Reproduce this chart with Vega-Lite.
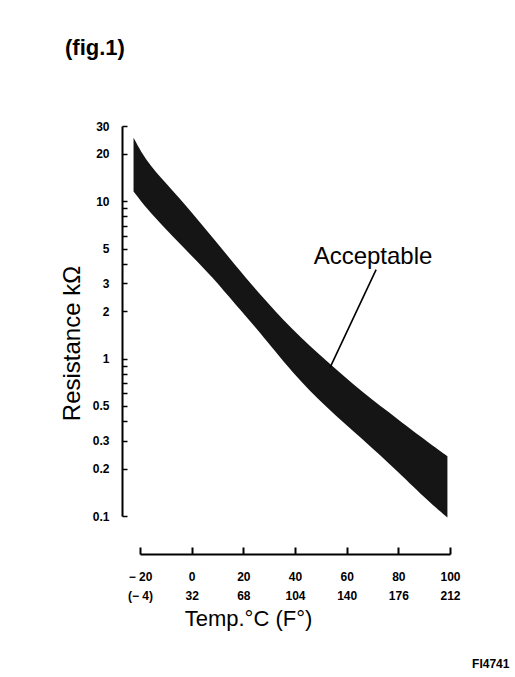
{
  "$schema": "https://vega.github.io/schema/vega-lite/v6.json",
  "autosize": "none",
  "width": 310,
  "height": 390,
  "padding": {"left": 140, "top": 126, "right": 65, "bottom": 161},
  "background": "white",
  "title": {
    "text": "(fig.1)",
    "anchor": "start",
    "frame": "group",
    "dx": -75,
    "offset": 38,
    "baseline": "bottom",
    "font": "Liberation Sans",
    "fontSize": 22,
    "fontWeight": "bold",
    "color": "black"
  },
  "config": {
    "view": {"stroke": null},
    "font": "Liberation Sans",
    "axis": {"labelColor": "black", "titleColor": "black", "grid": false}
  },
  "data": {
    "values": [
      {"temp": -22.5, "upper": 25.3, "lower": 11.5},
      {"temp": -18, "upper": 18.3, "lower": 9.2},
      {"temp": -10, "upper": 13.0, "lower": 6.6},
      {"temp": 0, "upper": 8.5, "lower": 4.5},
      {"temp": 8, "upper": 5.9, "lower": 3.3},
      {"temp": 17, "upper": 3.9, "lower": 2.2},
      {"temp": 26, "upper": 2.6, "lower": 1.5},
      {"temp": 39, "upper": 1.52, "lower": 0.81},
      {"temp": 52, "upper": 0.97, "lower": 0.49},
      {"temp": 66, "upper": 0.61, "lower": 0.31},
      {"temp": 80, "upper": 0.41, "lower": 0.19},
      {"temp": 92, "upper": 0.29, "lower": 0.122},
      {"temp": 99, "upper": 0.24, "lower": 0.098}
    ]
  },
  "layer": [
    {
      "mark": {"type": "area", "color": "#151515", "interpolate": "basis", "opacity": 1},
      "encoding": {
        "x": {
          "field": "temp",
          "type": "quantitative",
          "scale": {"domain": [-20, 100], "nice": false, "zero": false},
          "axis": {
            "title": "Temp.°C (F°)",
            "values": [-20, 0, 20, 40, 60, 80, 100],
            "labelExpr": "[datum.value < 0 ? '− 20' : datum.label, datum.value < 0 ? '(− 4)' : '' + (datum.value * 9 / 5 + 32)]",
            "offset": 38,
            "domainColor": "black",
            "domainWidth": 2,
            "tickColor": "black",
            "tickWidth": 2,
            "tickSize": -7,
            "labelPadding": 24,
            "labelFlush": false,
            "labelFontSize": 12,
            "labelFontWeight": "bold",
            "labelLineHeight": 19,
            "labelBaseline": "top",
            "titleFontSize": 22,
            "titleFontWeight": "normal",
            "titlePadding": 7,
            "titleX": 108
          }
        },
        "y": {
          "field": "upper",
          "type": "quantitative",
          "scale": {"type": "log", "domain": [0.1, 30], "nice": false},
          "axis": {
            "title": "Resistance kΩ",
            "values": [0.1, 0.2, 0.3, 0.4, 0.5, 0.6, 0.7, 0.8, 0.9, 1, 2, 3, 4, 5, 6, 7, 8, 9, 10, 20, 30],
            "format": "~g",
            "labelExpr": "indexof([0.1, 0.2, 0.3, 0.5, 1, 2, 3, 5, 10, 20, 30], datum.value) >= 0 ? datum.label : ''",
            "offset": 18,
            "domainColor": "black",
            "domainWidth": 2,
            "tickColor": "black",
            "tickWidth": 1.5,
            "tickSize": -5,
            "labelPadding": 18,
            "labelFlush": false,
            "labelOverlap": false,
            "labelFontSize": 12,
            "labelFontWeight": "bold",
            "titleFontSize": 24,
            "titleFontWeight": "normal",
            "titlePadding": 8,
            "titleY": 217
          }
        },
        "y2": {"field": "lower"}
      }
    },
    {
      "data": {"values": [{"x1": 71.4, "r1": 3.67, "x2": 53.6, "r2": 0.88}]},
      "mark": {"type": "rule", "color": "black", "strokeWidth": 1.6},
      "encoding": {
        "x": {"field": "x1", "type": "quantitative", "scale": {"domain": [-20, 100], "nice": false, "zero": false}},
        "y": {"field": "r1", "type": "quantitative", "scale": {"type": "log", "domain": [0.1, 30], "nice": false}},
        "x2": {"field": "x2"},
        "y2": {"field": "r2"}
      }
    },
    {
      "data": {"values": [{"label": "Acceptable", "tx": 70.2, "ty": 4.44}]},
      "mark": {"type": "text", "color": "black", "font": "Liberation Sans", "fontSize": 24, "align": "center", "baseline": "middle"},
      "encoding": {
        "x": {"field": "tx", "type": "quantitative", "scale": {"domain": [-20, 100], "nice": false, "zero": false}},
        "y": {"field": "ty", "type": "quantitative", "scale": {"type": "log", "domain": [0.1, 30], "nice": false}},
        "text": {"field": "label"}
      }
    },
    {
      "data": {"values": [{"label": "FI4741", "tx": 123, "ty": 0.0114}]},
      "mark": {"type": "text", "color": "black", "font": "Liberation Sans", "fontSize": 12, "fontWeight": "bold", "align": "right", "baseline": "middle"},
      "encoding": {
        "x": {"field": "tx", "type": "quantitative", "scale": {"domain": [-20, 100], "nice": false, "zero": false}},
        "y": {"field": "ty", "type": "quantitative", "scale": {"type": "log", "domain": [0.1, 30], "nice": false}},
        "text": {"field": "label"}
      }
    }
  ]
}
